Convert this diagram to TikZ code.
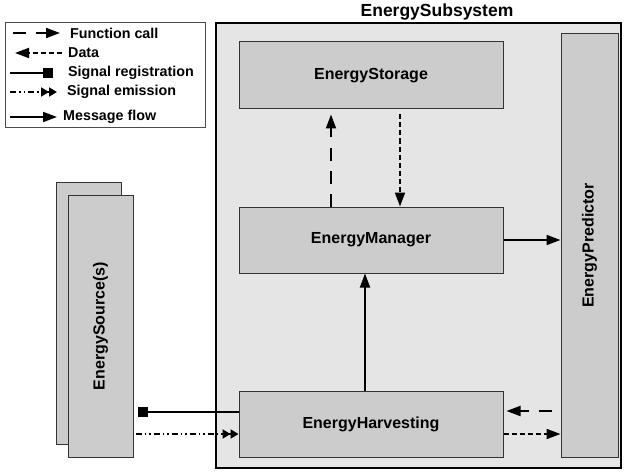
\documentclass[tikz,border=0pt]{standalone}
\usepackage{fontspec}
\setmainfont{Liberation Sans}
\usetikzlibrary{calc, positioning, arrows.meta}

\begin{document}
\begin{tikzpicture}[x=1pt, y=1pt,
    box/.style={draw=black!80, fill=gray!40, line width=1pt, inner sep=0pt, font=\fontsize{16}{18}\selectfont\bfseries},
    vlabel/.style={rotate=90, font=\fontsize{16}{18}\selectfont\bfseries},
    legtxt/.style={anchor=west, inner sep=0pt, font=\fontsize{14.3}{16}\selectfont\bfseries},
    fcall/.style={line width=1.8pt, dash pattern=on 13pt off 10pt, -{Triangle[length=14pt,width=10pt]}},
    data/.style={line width=1.8pt, dash pattern=on 5pt off 3pt, -{Triangle[length=14pt,width=10pt]}},
    sigreg/.style={line width=1.8pt, {Square[length=10pt,width=10pt]}-},
    sigemit/.style={line width=1.8pt, dash pattern=on 6pt off 3pt on 1.5pt off 3pt on 1.5pt off 3pt, -{Triangle[length=8pt,width=9pt]Triangle[length=8pt,width=9pt]}},
    msg/.style={line width=1.8pt, -{Triangle[length=14pt,width=10pt]}}]
    \useasboundingbox (0,0) rectangle (624,475);

    % Legend
    \node[draw=black!70, line width=1pt, minimum width=200pt, minimum height=105pt] (legend) at (105,399.5) {};
    \node[legtxt] (lfc) at (70,442) {Function call};
    \draw[fcall] ($(lfc.west)+(-57,0)$) -- ($(lfc.west)+(-10,0)$);
    \node[legtxt] (ldata) at (68,422) {Data};
    \draw[data] ($(ldata.west)+(-6,0)$) -- ($(ldata.west)+(-53,0)$);
    \node[legtxt] (lreg) at (68,402) {Signal registration};
    \draw[sigreg] ($(lreg.west)+(-15,0)$) -- ($(lreg.west)+(-58,0)$);
    \node[legtxt] (lemit) at (67,383) {Signal emission};
    \draw[sigemit] ($(lemit.west)+(-57,0)$) -- ($(lemit.west)+(-10,0)$);
    \node[legtxt] (lmsg) at (63,358) {Message flow};
    \draw[msg] ($(lmsg.west)+(-53,0)$) -- ($(lmsg.west)+(-6,0)$);

    % EnergySubsystem
    \node[draw=black, fill=gray!20, line width=2.8pt, minimum width=405pt, minimum height=445pt] (sub) at (418.5,229.5) {};
    \node[font=\fontsize{17.5}{20}\selectfont\bfseries] (subtitle) at (437,463) {EnergySubsystem};
    \node[box, minimum width=264pt, minimum height=67pt] (sto) at (371,399.5) {EnergyStorage};
    \node[box, minimum width=264pt, minimum height=66pt] (mgr) at (371,235) {EnergyManager};
    \node[box, minimum width=264pt, minimum height=66pt] (hrv) at (371,51) {EnergyHarvesting};
    \node[box, minimum width=57pt, minimum height=423pt] (pred) at (589.5,229.5) {};
    \node[vlabel] (predlbl) at (pred.center) {EnergyPredictor};

    % EnergySource(s), stacked
    \node[box, minimum width=65pt, minimum height=262pt] (srcB) at (88.5,162) {};
    \node[box, minimum width=65pt, minimum height=262pt] (srcA) at (100.5,149) {};
    \node[vlabel] (srclbl) at (srcA.center) {EnergySource(s)};

    % connectors
    \draw[fcall] ($(mgr.north)+(-40,0)$) -- ($(sto.south)+(-40,-5)$);
    \draw[data] ($(sto.south)+(29,-5)$) -- ($(mgr.north)+(29,0)$);
    \draw[msg] ($(hrv.north)+(-6,0)$) -- ($(mgr.south)+(-6,0)$);
    \draw[msg] (mgr.east) -- (mgr.east -| pred.west);
    \draw[fcall] ($(hrv.east -| pred.west)+(-9,13)$) -- ($(hrv.east)+(3,13)$);
    \draw[data] ($(hrv.east)+(0,-10)$) -- ($(hrv.east -| pred.west)+(0,-10)$);
    \draw[sigreg] ($(srcA.east |- hrv.west)+(4,12)$) -- ($(hrv.west)+(0,12)$);
    \draw[sigemit] ($(srcA.east |- hrv.west)+(2,-10)$) -- ($(hrv.west)+(0,-10)$);
\end{tikzpicture}
\end{document}
